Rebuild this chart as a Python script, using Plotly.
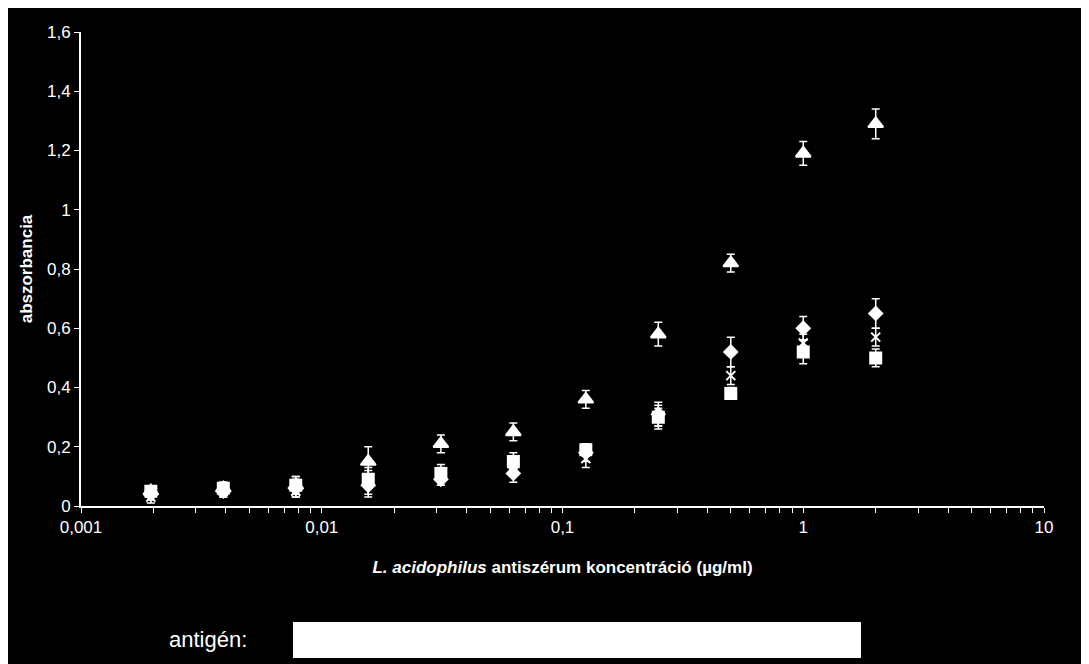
import plotly.graph_objects as go

conc = [0.00195, 0.0039, 0.0078, 0.0156, 0.03125, 0.0625, 0.125, 0.25, 0.5, 1, 2]
diamond = [0.04, 0.05, 0.06, 0.07, 0.09, 0.11, 0.18, 0.31, 0.52, 0.60, 0.65]
diamond_err = [0.02, 0.02, 0.03, 0.03, 0.02, 0.03, 0.03, 0.04, 0.05, 0.04, 0.05]
square = [0.05, 0.06, 0.07, 0.09, 0.11, 0.15, 0.19, 0.30, 0.38, 0.52, 0.50]
square_err = [0.01, 0.02, 0.03, 0.03, 0.03, 0.03, 0.02, 0.03, 0.02, 0.04, 0.03]
triangle = [0.05, 0.06, 0.07, 0.15, 0.21, 0.25, 0.36, 0.58, 0.82, 1.19, 1.29]
triangle_err = [0.01, 0.02, 0.03, 0.05, 0.03, 0.03, 0.03, 0.04, 0.03, 0.04, 0.05]
cross = [0.03, 0.05, 0.05, 0.08, 0.10, 0.14, 0.16, 0.30, 0.44, 0.55, 0.57]
cross_err = [0.02, 0.02, 0.02, 0.05, 0.03, 0.03, 0.03, 0.04, 0.03, 0.03, 0.03]

x_major = [0.001, 0.01, 0.1, 1, 10]
x_major_text = ["0,001", "0,01", "0,1", "1", "10"]

tickvals, ticktext = [], []
for i, m in enumerate(x_major):
    tickvals.append(m); ticktext.append(x_major_text[i])
    if m < 10:
        for k in range(2, 10):
            tickvals.append(m * k); ticktext.append("")

fig = go.Figure()
for y, e, sym, size in [(diamond, diamond_err, "diamond", 10),
                        (cross, cross_err, "x-thin-open", 9),
                        (square, square_err, "square", 11),
                        (triangle, triangle_err, "triangle-up", 13)]:
    fig.add_trace(go.Scatter(
        x=conc, y=y, mode="markers",
        marker=dict(symbol=sym, size=size, color="white",
                    line=dict(color="white", width=2)),
        error_y=dict(type="data", array=e, color="white", thickness=1.5, width=4),
        showlegend=False))

fig.update_layout(
    width=1081, height=656,
    paper_bgcolor="black", plot_bgcolor="black",
    margin=dict(l=73, r=45, t=24, b=158),
    separators=", ",
    font=dict(family="Liberation Sans, Arial", color="white", size=17),
    xaxis=dict(type="log", range=[-3, 1], tickvals=tickvals, ticktext=ticktext,
               showgrid=False, zeroline=False, showline=True, linecolor="white",
               linewidth=2, ticks="outside", tickcolor="white", ticklen=5,
               title=dict(text="<b><i>L. acidophilus</i> antiszérum koncentráció (µg/ml)</b>",
                          font=dict(size=17), standoff=25)),
    yaxis=dict(range=[0, 1.6], dtick=0.2, showgrid=False, zeroline=False,
               showline=True, linecolor="white", linewidth=2, ticks="outside",
               tickcolor="white", ticklen=5,
               title=dict(text="<b>abszorbancia</b>", font=dict(size=17), standoff=10)),
)
fig.add_annotation(text="antigén:", xref="paper", yref="paper", x=0.089, y=-(640-506)/474,
                   xanchor="left", yanchor="middle", showarrow=False,
                   font=dict(size=22, color="white"))
fig.add_shape(type="rect", xref="paper", yref="paper",
              x0=(293-81)/963, x1=(861-81)/963, y0=-(658-506)/474, y1=-(622-506)/474,
              fillcolor="white", line=dict(color="white", width=0))
fig.write_html("out.html")
